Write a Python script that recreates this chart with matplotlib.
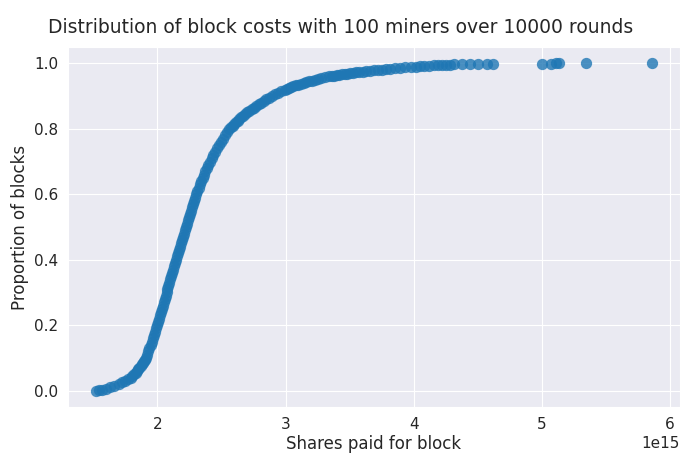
import matplotlib
matplotlib.use("Agg")
import matplotlib.pyplot as plt
import seaborn as sns

# Sorted block costs (in units of 1e15 shares) and their cumulative proportion
cost_e15 = [
    1.520, 1.545, 1.570, 1.600, 1.630, 1.665, 1.700, 1.725, 1.750, 1.770,
    1.790, 1.805, 1.818, 1.830, 1.840, 1.850, 1.860, 1.869, 1.878, 1.886,
    1.894, 1.901, 1.908, 1.919, 1.929, 1.938,
    1.947, 1.956, 1.964, 1.972, 1.980, 1.988, 1.996, 2.004, 2.012, 2.020,
    2.028, 2.036, 2.043, 2.050, 2.057, 2.064, 2.071, 2.078, 2.085, 2.092,
    2.099, 2.106, 2.114, 2.122, 2.130, 2.138, 2.146, 2.154, 2.162, 2.170,
    2.178, 2.186, 2.194, 2.202, 2.210, 2.218, 2.226, 2.233, 2.240, 2.247,
    2.254, 2.262, 2.270, 2.278, 2.286, 2.294, 2.302, 2.312, 2.322, 2.332,
    2.342, 2.352, 2.363, 2.374, 2.386, 2.398, 2.410, 2.423, 2.436, 2.450,
    2.465, 2.480, 2.495, 2.510, 2.527, 2.544, 2.562, 2.574, 2.586, 2.599,
    2.612, 2.626, 2.640, 2.655, 2.669, 2.685, 2.700, 2.717, 2.734, 2.752,
    2.770, 2.789, 2.808, 2.828, 2.848, 2.869, 2.890, 2.915, 2.940, 2.967,
    2.995, 3.012, 3.030, 3.045, 3.060, 3.080, 3.100, 3.120, 3.140, 3.162,
    3.185, 3.207, 3.230, 3.255, 3.280, 3.310, 3.340, 3.360, 3.380, 3.400,
    3.420, 3.440, 3.460, 3.480, 3.500, 3.525, 3.550, 3.575, 3.600, 3.630,
    3.660, 3.690, 3.720, 3.750, 3.780, 3.815, 3.850, 3.890, 3.930, 3.975,
    4.020, 4.050, 4.080, 4.120, 4.160, 4.190, 4.220, 4.250, 4.280, 4.310,
    4.380, 4.440, 4.500, 4.570, 4.620, 5.000, 5.070, 5.110, 5.130, 5.340,
    5.860,
]
proportion = [
    0.000, 0.001, 0.003, 0.006, 0.010, 0.015, 0.020, 0.025, 0.030, 0.035,
    0.040, 0.045, 0.050, 0.055, 0.060, 0.065, 0.070, 0.075, 0.080, 0.085,
    0.090, 0.095, 0.100, 0.110, 0.120, 0.130,
    0.140, 0.150, 0.160, 0.170, 0.180, 0.190, 0.200, 0.210, 0.220, 0.230,
    0.240, 0.250, 0.260, 0.270, 0.280, 0.290, 0.300, 0.310, 0.320, 0.330,
    0.340, 0.350, 0.360, 0.370, 0.380, 0.390, 0.400, 0.410, 0.420, 0.430,
    0.440, 0.450, 0.460, 0.470, 0.480, 0.490, 0.500, 0.510, 0.520, 0.530,
    0.540, 0.550, 0.560, 0.570, 0.580, 0.590, 0.600, 0.610, 0.620, 0.630,
    0.640, 0.650, 0.660, 0.670, 0.680, 0.690, 0.700, 0.710, 0.720, 0.730,
    0.740, 0.750, 0.760, 0.770, 0.780, 0.790, 0.800, 0.805, 0.810, 0.815,
    0.820, 0.825, 0.830, 0.835, 0.840, 0.845, 0.850, 0.855, 0.860, 0.865,
    0.870, 0.875, 0.880, 0.885, 0.890, 0.895, 0.900, 0.905, 0.910, 0.915,
    0.920, 0.9225, 0.925, 0.927, 0.930, 0.9325, 0.935, 0.9375, 0.940, 0.9425,
    0.945, 0.9475, 0.950, 0.9525, 0.955, 0.9575, 0.960, 0.9612, 0.9625, 0.9638,
    0.965, 0.9662, 0.9675, 0.9688, 0.970, 0.9712, 0.9725, 0.9738, 0.975, 0.9762,
    0.9775, 0.9788, 0.980, 0.9812, 0.9825, 0.9838, 0.985, 0.9862, 0.9875, 0.9888,
    0.990, 0.991, 0.992, 0.993, 0.994, 0.9945, 0.995, 0.9955, 0.996, 0.9965,
    0.997, 0.9975, 0.998, 0.9985, 0.999, 0.9992, 0.9994, 0.9996, 0.9997, 0.9998,
    1.000,
]

sns.set_style("darkgrid")
plt.rcParams["font.family"] = ["DejaVu Sans"]

fig, ax = plt.subplots(figsize=(6.81, 4.54), dpi=100)
fig.subplots_adjust(left=0.1, right=0.9985, top=0.8965, bottom=0.1035)

xs = [c * 1e15 for c in cost_e15]
ax.scatter(xs, proportion, s=66, color="#1f77b4", alpha=0.8, linewidths=0)

fig.suptitle("Distribution of block costs with 100 miners over 10000 rounds",
             fontsize=13.5, y=0.96, color="#262626")
ax.set_xlabel("Shares paid for block", fontsize=12, labelpad=2)
ax.set_ylabel("Proportion of blocks", fontsize=12)
ax.tick_params(labelsize=11)
ax.set_yticks([0.0, 0.2, 0.4, 0.6, 0.8, 1.0])
ax.xaxis.get_offset_text().set_fontsize(11)

fig.savefig("out.png", dpi=100)
